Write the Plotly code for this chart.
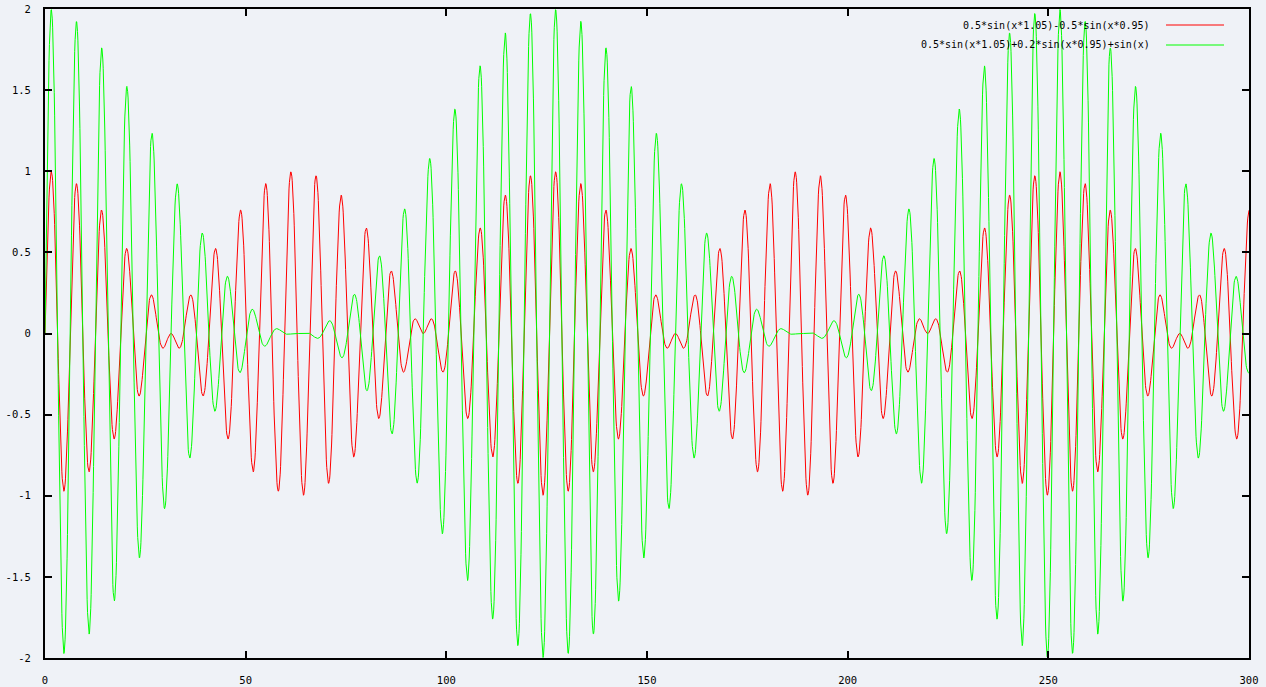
import numpy as np
import plotly.graph_objects as go

# Legend labels (text as shown in the chart)
series_names = ["0.5*sin(x*1.05)-0.5*sin(x*0.95)",
                "0.5*sin(x*1.05)+0.2*sin(x*0.95)+sin(x)"]
series_colors = ["#ff0000", "#00ff00"]

# Function plot sampled over 0..300. The drawn curves (read off the picture):
# red: carrier sin(x) with envelope cos(0.05x); green: carrier sin(x) with envelope 1+cos(0.05x)
x_vals = np.linspace(0, 300, 3001)
carrier = np.sin(x_vals)
envelope = np.cos(0.05 * x_vals)
y_red = carrier * envelope
y_green = carrier * (1 + envelope)

x_ticks = [0, 50, 100, 150, 200, 250, 300]
x_tick_labels = ["0", "50", "100", "150", "200", "250", "300"]
y_ticks = [-2, -1.5, -1, -0.5, 0, 0.5, 1, 1.5, 2]
y_tick_labels = ["-2", "-1.5", "-1", "-0.5", "0", "0.5", "1", "1.5", "2"]

BG = "#eff2f7"
FONT = "DejaVu Sans Mono"

fig = go.Figure()
for ys, name, col in zip([y_red, y_green], series_names, series_colors):
    fig.add_trace(go.Scatter(x=x_vals, y=ys, mode="lines", name=name,
                             line=dict(color=col, width=1), showlegend=False,
                             hoverinfo="skip"))

W, H = 1266, 687
ml, mr, mt, mb = 45, 17, 9, 29
pw, ph = W - ml - mr, H - mt - mb


def px_to_paper_x(px):
    return (px - ml) / pw


def px_to_paper_y(py):
    return 1 - (py - mt) / ph


legend_rows_y = [25, 45]
for name, col, ry in zip(series_names, series_colors, legend_rows_y):
    fig.add_annotation(x=px_to_paper_x(1152), y=px_to_paper_y(ry), xref="paper", yref="paper",
                       text=name, showarrow=False, xanchor="right", yanchor="middle",
                       font=dict(family=FONT, size=10, color="black"))
    fig.add_shape(type="line", xref="paper", yref="paper",
                  x0=px_to_paper_x(1166), x1=px_to_paper_x(1224),
                  y0=px_to_paper_y(ry), y1=px_to_paper_y(ry),
                  line=dict(color=col, width=1))

axis_common = dict(showline=True, linecolor="black", linewidth=2, mirror="ticks",
                   ticks="inside", ticklen=7, tickwidth=2, tickcolor="black",
                   showgrid=False, zeroline=False, automargin=False,
                   tickfont=dict(family=FONT, size=10.5, color="black"))
fig.update_xaxes(range=[0, 300], tickvals=x_ticks, ticktext=x_tick_labels,
                 ticklabelstandoff=11, **axis_common)
fig.update_yaxes(range=[-2, 2], tickvals=y_ticks, ticktext=y_tick_labels,
                 ticklabelstandoff=10, **axis_common)

fig.update_layout(width=W, height=H, margin=dict(l=ml, r=mr, t=mt, b=mb),
                  paper_bgcolor=BG, plot_bgcolor=BG, showlegend=False)

fig.write_html("out.html", config={"displayModeBar": False},
               post_script="document.body.style.margin='0';"
                           "document.body.style.background='" + BG + "';")
